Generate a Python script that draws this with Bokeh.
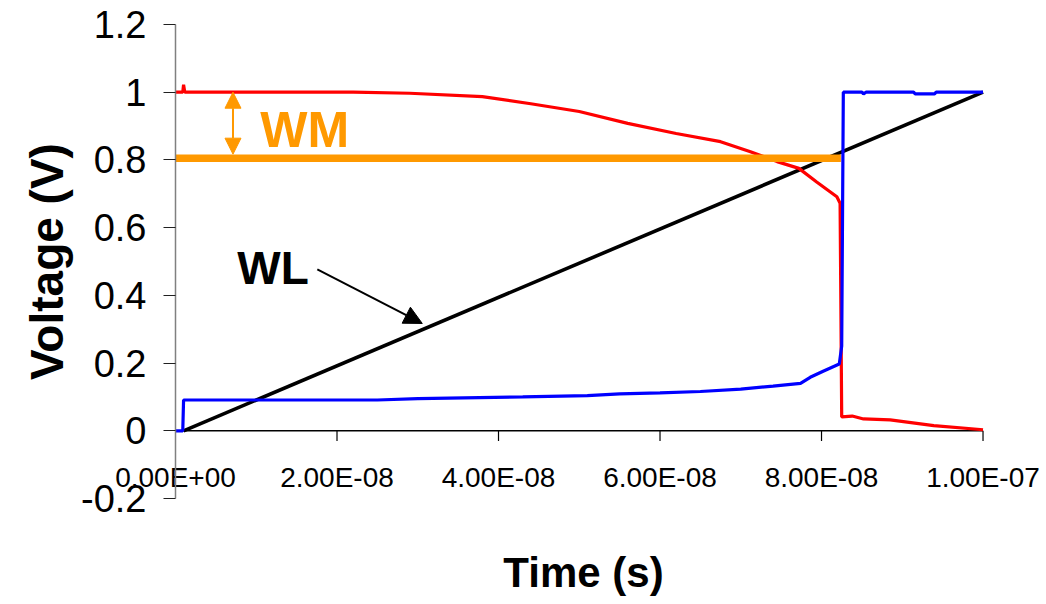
from bokeh.plotting import figure
from bokeh.models import Range1d, FixedTicker, Label, Arrow, NormalHead, LinearAxis
from bokeh.embed import file_html
from bokeh.resources import INLINE

# ---- data ----
wl_time = [1.0e-9, 1.0e-7]
wl_volt = [0.0, 1.0]

red_time = [0.0, 0.9e-9, 1.0e-9, 1.15e-9, 2.2e-8, 2.9e-8, 3.8e-8, 4.4e-8, 5.0e-8, 5.6e-8,
            6.2e-8, 6.75e-8, 7.12e-8, 7.45e-8, 7.72e-8, 7.94e-8, 8.19e-8, 8.23e-8,
            8.25e-8, 8.38e-8, 8.52e-8, 8.85e-8, 9.39e-8, 1.0e-7]
red_volt = [1.0, 1.0, 1.022, 1.0, 1.0, 0.997, 0.987, 0.966, 0.943, 0.908,
            0.878, 0.854, 0.824, 0.795, 0.775, 0.735, 0.691, 0.672,
            0.041, 0.0435, 0.035, 0.032, 0.015, 0.003]

blue_time = [0.0, 0.9e-9, 1.0e-9, 2.5e-8, 3.0e-8, 4.3e-8, 5.1e-8, 5.5e-8, 6.0e-8, 6.5e-8,
             7.0e-8, 7.4e-8, 7.74e-8, 7.86e-8, 8.02e-8, 8.22e-8, 8.25e-8, 8.27e-8,
             8.5e-8, 8.52e-8, 8.55e-8, 9.14e-8, 9.16e-8, 9.4e-8, 9.42e-8, 1.0e-7]
blue_volt = [0.0, 0.0, 0.091, 0.091, 0.095, 0.100, 0.104, 0.109, 0.112, 0.116,
             0.123, 0.132, 0.140, 0.158, 0.176, 0.197, 0.25, 1.0,
             1.0, 0.995, 1.0, 1.0, 0.995, 0.995, 1.0, 1.0]

wm_time = [0.0, 8.24e-8]
wm_volt = [0.805, 0.805]

x_ticks = [0.0, 2e-8, 4e-8, 6e-8, 8e-8, 1e-7]
x_tick_labels = ["0.00E+00", "2.00E-08", "4.00E-08", "6.00E-08", "8.00E-08", "1.00E-07"]
y_ticks = [-0.2, 0.0, 0.2, 0.4, 0.6, 0.8, 1.0, 1.2]
y_tick_labels = ["-0.2", "0", "0.2", "0.4", "0.6", "0.8", "1", "1.2"]

FONT = "Liberation Sans"
ORANGE = "#FF9900"

p = figure(width=1046, height=604, output_backend="svg", toolbar_location=None,
           x_range=Range1d(0, 1.0105e-7), y_range=Range1d(-0.2, 1.2),
           x_axis_location=None,
           min_border_left=175, min_border_right=55, min_border_top=24, min_border_bottom=106)
p.outline_line_color = None
p.xgrid.visible = False
p.ygrid.visible = False
p.background_fill_color = "white"
p.border_fill_color = "white"

ax = p.yaxis[0]
ax.ticker = FixedTicker(ticks=y_ticks, minor_ticks=[])
ax.major_label_overrides = dict(zip(y_ticks, y_tick_labels))
ax.axis_line_color = "#808080"
ax.axis_line_width = 1.5
ax.major_tick_out = 12
ax.major_tick_in = 0
ax.minor_tick_out = 0
ax.minor_tick_in = 0
ax.major_tick_line_color = "#202020"
ax.major_tick_line_width = 1.2
ax.major_label_text_font = FONT
ax.major_label_text_font_size = "38px"
ax.major_label_text_color = "black"
ax.major_label_standoff = 17
ax.axis_label = "Voltage (V)"
ax.axis_label_text_font = FONT
ax.axis_label_text_font_style = "bold"
ax.axis_label_text_font_size = "46px"
ax.axis_label_text_color = "black"
ax.axis_label_standoff = 5

# x axis: labels/title from a below axis pulled up; line and ticks drawn at y = 0
xax = LinearAxis(ticker=FixedTicker(ticks=x_ticks, minor_ticks=[]))
xax.major_label_overrides = dict(zip(x_ticks, x_tick_labels))
xax.axis_line_color = None
xax.major_tick_line_color = None
xax.minor_tick_line_color = None
xax.major_tick_out = 0
xax.major_tick_in = 0
xax.major_label_standoff = -37
xax.major_label_text_font = FONT
xax.major_label_text_font_size = "28px"
xax.major_label_text_color = "black"
xax.axis_label = "Time (s)"
xax.axis_label_text_font = FONT
xax.axis_label_text_font_style = "bold"
xax.axis_label_text_font_size = "42px"
xax.axis_label_text_color = "black"
xax.axis_label_standoff = 53
p.add_layout(xax, "below")

p.line([x_ticks[0], x_ticks[-1]], [0.0, 0.0], line_color="black", line_width=1.5)
p.segment(x0=x_ticks[1:], y0=[0.0] * 5, x1=x_ticks[1:], y1=[-0.03] * 5,
          line_color="black", line_width=1.2)

# series
p.line(wl_time, wl_volt, line_color="black", line_width=3.6)
p.line(red_time, red_volt, line_color="#FF0000", line_width=3.2)
p.line(wm_time, wm_volt, line_color=ORANGE, line_width=7.5)
p.line(blue_time, blue_volt, line_color="#0000FF", line_width=3.2)

# annotations
p.add_layout(Label(x=7.65e-9, y=0.482, text="WL", text_align="left", text_baseline="alphabetic",
                   text_font=FONT, text_font_style="bold", text_font_size="46px",
                   text_color="black"))
p.add_layout(Arrow(end=NormalHead(size=18, fill_color="black", line_color="black"),
                   x_start=1.756e-8, y_start=0.477, x_end=3.056e-8, y_end=0.317,
                   line_color="black", line_width=2))

p.add_layout(Label(x=1.05e-8, y=0.888, text="WM", text_align="left", text_baseline="alphabetic",
                   text_font=FONT, text_font_style="bold", text_font_size="50px",
                   text_color=ORANGE))
p.add_layout(Arrow(start=NormalHead(size=16, fill_color=ORANGE, line_color=ORANGE),
                   end=NormalHead(size=16, fill_color=ORANGE, line_color=ORANGE),
                   x_start=7.12e-9, y_start=1.0, x_end=7.12e-9, y_end=0.817,
                   line_color=ORANGE, line_width=2))

open("out.html", "w").write(file_html(p, INLINE))
